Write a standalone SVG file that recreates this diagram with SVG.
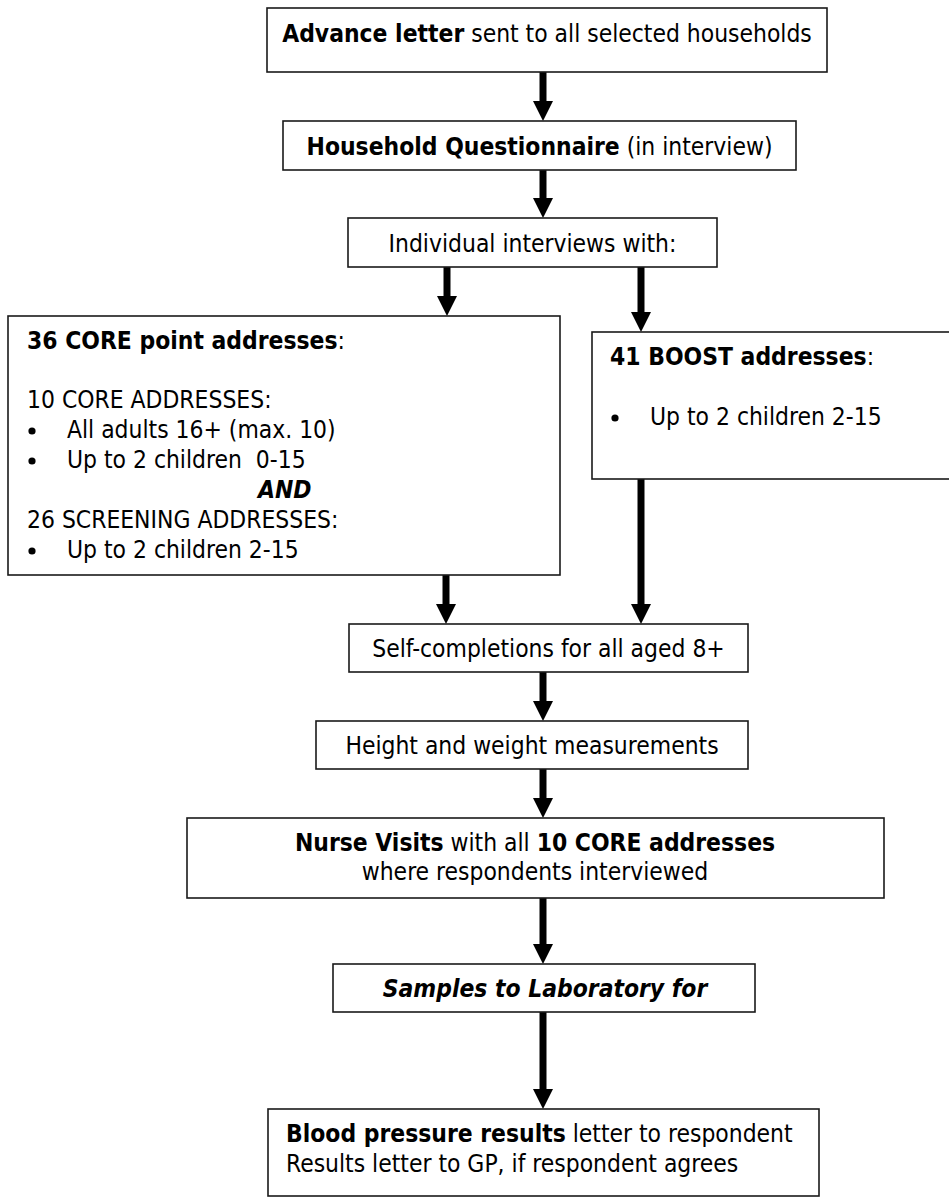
<svg xmlns="http://www.w3.org/2000/svg" width="949" height="1200" viewBox="0 0 949 1200">
<style>
  .box { fill: #ffffff; stroke: #1a1a1a; stroke-width: 1.6; }
  text { font-family: 'DejaVu Sans Condensed', 'Liberation Sans', sans-serif; font-size: 24.4px; fill: #000000; }
  .c { text-anchor: middle; }
  .b { font-weight: bold; }
  .bi { font-weight: bold; font-style: italic; }
  .conn { stroke: #000000; stroke-width: 7; fill: none; marker-end: url(#head); }
  .dot { fill: #000000; }
</style>
<defs>
  <marker id="head" markerUnits="userSpaceOnUse" markerWidth="20" markerHeight="20" viewBox="0 -10 20 20" refX="0" refY="0" orient="auto">
    <path d="M0,-10 L20,0 L0,10 z" fill="#000000"/>
  </marker>
</defs>
<rect width="949" height="1200" fill="#ffffff"/>

<g id="connectors">
  <line class="conn" x1="543" y1="72" x2="543" y2="101"/>
  <line class="conn" x1="543" y1="170" x2="543" y2="198"/>
  <line class="conn" x1="447" y1="267" x2="447" y2="296"/>
  <line class="conn" x1="641" y1="267" x2="641" y2="312"/>
  <line class="conn" x1="446" y1="575" x2="446" y2="604"/>
  <line class="conn" x1="641" y1="479" x2="641" y2="604"/>
  <line class="conn" x1="543" y1="672" x2="543" y2="701"/>
  <line class="conn" x1="543" y1="769" x2="543" y2="798"/>
  <line class="conn" x1="543" y1="898" x2="543" y2="944"/>
  <line class="conn" x1="543" y1="1012" x2="543" y2="1089"/>
</g>

<g id="advance-letter">
  <rect class="box" x="267" y="8" width="560" height="64"/>
  <text class="c" x="547" y="42"><tspan class="b">Advance letter</tspan> sent to all selected households</text>
</g>

<g id="household-questionnaire">
  <rect class="box" x="283" y="121" width="513" height="49"/>
  <text class="c" x="539.5" y="155"><tspan class="b">Household Questionnaire</tspan> (in interview)</text>
</g>

<g id="individual-interviews">
  <rect class="box" x="348" y="218" width="369" height="49"/>
  <text class="c" x="532.5" y="252">Individual interviews with:</text>
</g>

<g id="core-addresses">
  <rect class="box" x="8" y="316" width="552" height="259"/>
  <text x="27" y="349"><tspan class="b">36 CORE point addresses</tspan>:</text>
  <text x="27" y="408">10 CORE ADDRESSES:</text>
  <circle class="dot" cx="32" cy="431" r="3.6"/>
  <text x="67" y="438">All adults 16+ (max. 10)</text>
  <circle class="dot" cx="32" cy="461" r="3.6"/>
  <text x="67" y="468" xml:space="preserve">Up to 2 children  0-15</text>
  <text class="bi" x="258" y="498">AND</text>
  <text x="27" y="528">26 SCREENING ADDRESSES:</text>
  <circle class="dot" cx="32" cy="551" r="3.6"/>
  <text x="67" y="558">Up to 2 children 2-15</text>
</g>

<g id="boost-addresses">
  <rect class="box" x="592" y="332" width="370" height="147"/>
  <text x="610" y="365"><tspan class="b">41 BOOST addresses</tspan>:</text>
  <circle class="dot" cx="615" cy="418" r="3.6"/>
  <text x="650" y="425">Up to 2 children 2-15</text>
</g>

<g id="self-completions">
  <rect class="box" x="349" y="624" width="399" height="48"/>
  <text class="c" x="548.5" y="657">Self-completions for all aged 8+</text>
</g>

<g id="height-weight">
  <rect class="box" x="316" y="721" width="432" height="48"/>
  <text class="c" x="532" y="754">Height and weight measurements</text>
</g>

<g id="nurse-visits">
  <rect class="box" x="187" y="818" width="697" height="80"/>
  <text class="c" x="535" y="851"><tspan class="b">Nurse Visits</tspan> with all <tspan class="b">10 CORE addresses</tspan></text>
  <text class="c" x="535" y="880">where respondents interviewed</text>
</g>

<g id="samples-laboratory">
  <rect class="box" x="333" y="964" width="422" height="48"/>
  <text class="c bi" x="545" y="997">Samples to Laboratory for</text>
</g>

<g id="blood-pressure">
  <rect class="box" x="268" y="1109" width="551" height="87"/>
  <text x="286" y="1142"><tspan class="b">Blood pressure results</tspan> letter to respondent</text>
  <text x="286" y="1172">Results letter to GP, if respondent agrees</text>
</g>
</svg>
